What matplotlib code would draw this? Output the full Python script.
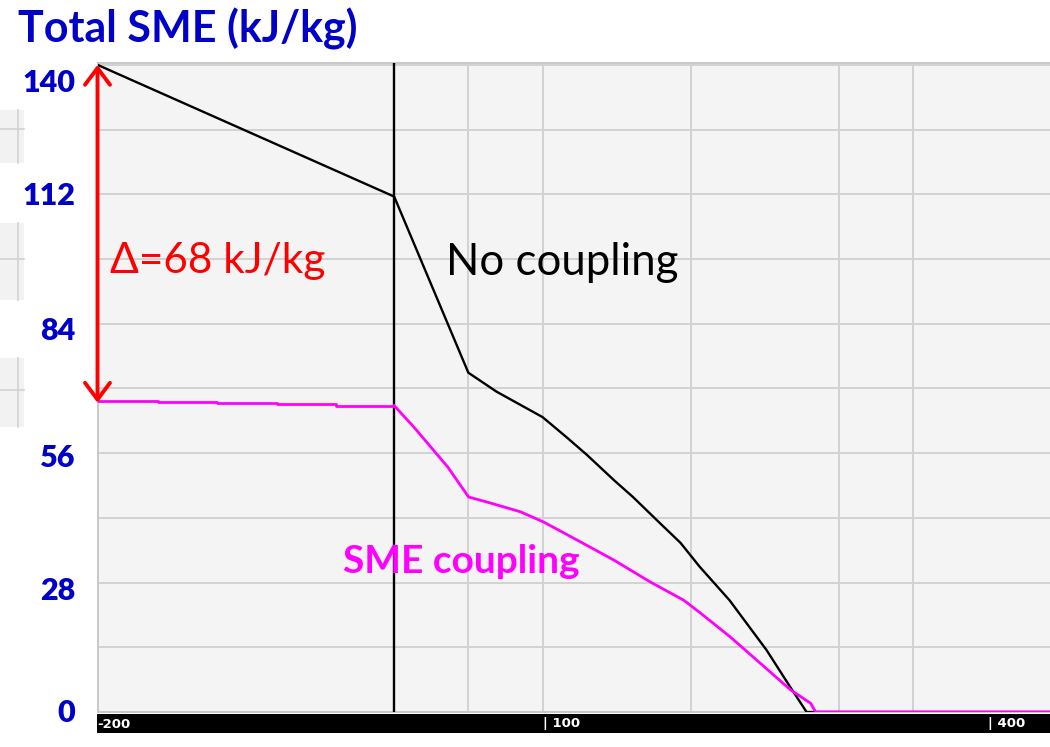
import matplotlib
matplotlib.use('Agg')
import matplotlib.pyplot as plt
from matplotlib.patches import Rectangle
from matplotlib.lines import Line2D

# ---------------- data ----------------
no_coupling_x = [-200, 0, 50, 69, 100, 116, 130, 148, 161, 179, 193, 206, 226, 251, 267, 278, 442]
no_coupling_y = [140, 111.5, 73.4, 69.3, 63.8, 59.5, 55.6, 50.2, 46.5, 40.9, 36.6, 31.4, 24.2, 13.4, 5.4, 0, 0]

sme_step_x = [-200, -159.2, -119.4, -78.9, -39.2, 0]
sme_step_y = [67.37, 67.08, 66.86, 66.54, 66.28, 66.28]

sme_x = [0, 13.1, 36.1, 50.2, 65, 85.2, 100.7, 125.6, 147.9, 172.8, 195.1, 206.5, 226.7, 267.2, 280.7, 284.1, 442]
sme_y = [66.28, 61.7, 53.0, 46.5, 45.2, 43.3, 41.1, 36.8, 32.9, 28.1, 24.2, 21.4, 16.2, 4.8, 1.9, 0, 0]

ref_x = 0
delta_top = 140
delta_bottom = 66.9
delta_label = "\u0394=68 kJ/kg"

ytick_labels = ["140", "112", "84", "56", "28", "0"]
xtick_values = [-200, 100, 400]
xtick_labels = ["-200", "| 100", "| 400"]
xgrid = [50, 100, 200, 300, 350]
ygrid = list(range(0, 141, 14))

title = "Total SME (kJ/kg)"

# ---------------- layout ----------------
W, H = 1050, 747
def fx(px): return px / W
def fy(py): return 1 - py / H

plt.rcParams['font.family'] = ['Lato', 'DejaVu Sans']
fig = plt.figure(figsize=(W / 100, H / 100), dpi=100)
fig.patch.set_facecolor('white')

ax = fig.add_axes([fx(97.5), fy(712), 1 - fx(97.5), (712 - 63) / H])
ax.set_facecolor('#f4f4f4')
ax.set_xlim(-200, 442.1)
ax.set_ylim(0, 140.4)
ax.set_xticks(xgrid)
ax.set_yticks(ygrid)
ax.tick_params(length=0, labelbottom=False, labelleft=False)
ax.grid(True, color='#d2d2d2', lw=1.4)
ax.set_axisbelow(True)
for s in ['left', 'top', 'bottom']:
    ax.spines[s].set_color('#c8c8c8')
    ax.spines[s].set_linewidth(1.4)
ax.spines['right'].set_visible(False)

ax.axvline(ref_x, color='black', lw=1.7, zorder=3)
ax.plot(no_coupling_x, no_coupling_y, color='black', lw=1.7, zorder=4)
ax.plot(sme_step_x, sme_step_y, color='#ff00ff', lw=2.0, drawstyle='steps-post', zorder=5)
ax.plot(sme_x, sme_y, color='#ff00ff', lw=2.0, zorder=5)

ax.annotate('', xy=(-200, delta_top), xytext=(-200, delta_bottom),
            arrowprops=dict(arrowstyle='<->,head_length=0.6,head_width=0.45',
                            color='red', lw=2.8, shrinkA=0, shrinkB=0,
                            mutation_scale=20),
            annotation_clip=False, zorder=6)

ax.text(-191.6, 95.0, delta_label, color='red', fontsize=30.5, va='baseline', ha='left')
ax.text(35.0, 94.6, "No coupling", color='black', fontsize=31.5, va='baseline', ha='left')
ax.text(-34.5, 30.1, "SME coupling", color='#ff00ff', fontsize=28, fontweight='bold',
        va='baseline', ha='left')

# title
fig.text(fx(18), fy(43), title, color='#0000c8', fontsize=31, fontweight='bold',
         va='baseline', ha='left')

# y labels
label_baseline_px = [92, 205, 340, 467, 600, 722]
for lab, bpx in zip(ytick_labels, label_baseline_px):
    fig.text(fx(75), fy(bpx), lab, color='#0000c8', fontsize=22, fontweight='heavy',
             va='baseline', ha='right')

# left gray remnants
for top, bot in [(110, 163), (223, 300), (358, 427)]:
    fig.patches.append(Rectangle((0, fy(bot)), fx(24), (bot - top) / H,
                                 transform=fig.transFigure, facecolor='#f2f2f2',
                                 edgecolor='none', zorder=-2))
    fig.lines.append(Line2D([fx(18), fx(18)], [fy(bot), fy(top)], transform=fig.transFigure,
                            color='#d2d2d2', lw=1.2, zorder=-1))
for gy in [129, 259, 390]:
    fig.lines.append(Line2D([0, fx(24)], [fy(gy), fy(gy)], transform=fig.transFigure,
                            color='#d2d2d2', lw=1.2, zorder=-1))

# black bottom bar
fig.patches.append(Rectangle((fx(97), fy(733)), 1 - fx(97), (733 - 714) / H,
                             transform=fig.transFigure, facecolor='black', edgecolor='none',
                             zorder=-2))
for v, lab in zip(xtick_values, xtick_labels):
    ax.text(v, -(724 - 712) / (712 - 63), lab, transform=ax.get_xaxis_transform(),
            color='white', fontsize=9.5, fontweight='bold', family='DejaVu Sans',
            va='center', ha='left', clip_on=False)

fig.savefig('out.png', dpi=100)
